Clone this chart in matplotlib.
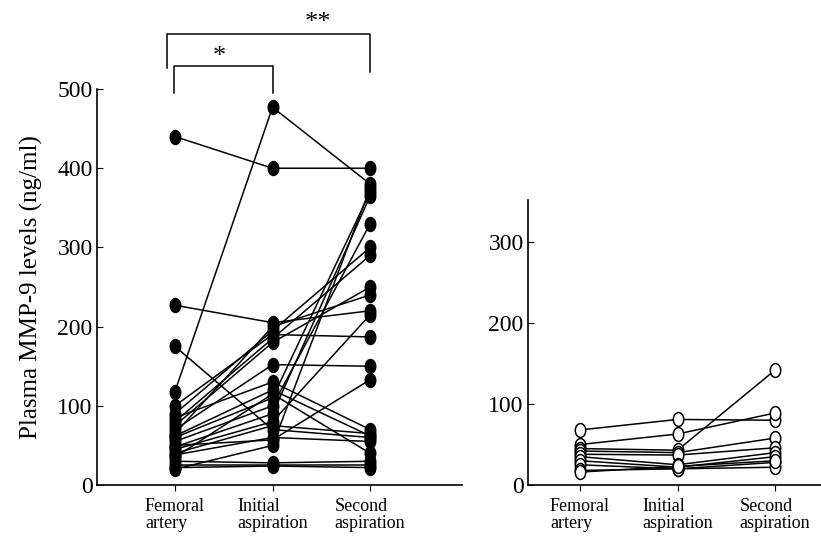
#!/usr/bin/env python3
# -*- coding: utf-8 -*-

"""
	Plasma MMP-9 levels, paired plot (two panels)
"""

import matplotlib
matplotlib.use("Agg")
import matplotlib.pyplot as plt
from matplotlib.path import Path

plt.rcParams['font.family'] = ['Liberation Serif', 'DejaVu Serif']

groups = ["Femoral\nartery", "Initial\naspiration", "Second\naspiration"]

# left panel (filled markers): femoral, initial, second
left_femoral = [440, 118, 227, 175, 100, 90, 85, 80, 75, 70, 65, 60,
                55, 50, 48, 45, 40, 38, 35, 30, 25, 22, 20, 62]
left_initial = [400, 477, 205, 70, 190, 195, 130, 185, 180, 152, 200, 110,
                100, 57, 90, 80, 75, 60, 115, 28, 25, 24, 50, 120]
left_second = [400, 380, 220, 60, 187, 300, 70, 290, 250, 150, 240, 370,
               330, 133, 365, 215, 65, 55, 40, 30, 25, 22, 375, 62]

# right panel (open markers)
right_femoral = [68, 50, 45, 42, 38, 35, 30, 25, 18, 16]
right_initial = [81, 63, 43, 40, 37, 25, 22, 20, 20, 23]
right_second = [80, 89, 142, 58, 46, 40, 35, 28, 22, 30]

# vertically stretched dot, like the scanned figure
circ = Path.unit_circle()
ellipse = Path(circ.vertices * [0.75, 1.0], circ.codes)


def style_axes(ax, ymax, yticks):
	ax.spines['top'].set_visible(False)
	ax.spines['right'].set_visible(False)
	ax.spines['left'].set_linewidth(1.2)
	ax.spines['bottom'].set_linewidth(1.2)
	ax.set_ylim(0, ymax)
	ax.set_yticks(yticks)
	ax.set_xticks([1, 2, 3])
	ax.set_xticklabels(groups, fontsize=13, multialignment='left', linespacing=1.05)
	ax.tick_params(axis='y', direction='in', length=4, labelsize=17, pad=3)
	ax.tick_params(axis='x', direction='out', length=4, pad=5)


def draw_pairs(ax, a, b, c, face):
	for v in zip(a, b, c):
		ax.plot([1, 2, 3], v, color='black', lw=1.1, marker=ellipse,
				markersize=10, markerfacecolor=face, markeredgecolor='black',
				markeredgewidth=1.1, clip_on=False, zorder=3)


fig = plt.figure(figsize=(8.21, 5.37), dpi=100)

ax1 = fig.add_axes([0.118, 0.0968, 0.4446, 0.7374])
draw_pairs(ax1, left_femoral, left_initial, left_second, 'black')
ax1.set_xlim(0.2, 3.94)
style_axes(ax1, 500, [0, 100, 200, 300, 400, 500])
ax1.set_ylabel("Plasma MMP-9 levels (ng/ml)", fontsize=18, labelpad=10)

# significance brackets
ax1.plot([0.92, 0.92, 3.0, 3.0], [526, 569, 569, 522], color='black', lw=1.1, clip_on=False)
ax1.plot([0.99, 0.99, 2.0, 2.0], [495, 529, 529, 495], color='black', lw=1.1, clip_on=False)
ax1.text(2.47, 570, "**", ha='center', va='bottom', fontsize=19)
ax1.text(1.45, 526, "*", ha='center', va='bottom', fontsize=19)

ax2 = fig.add_axes([0.643, 0.0968, 0.357, 0.5307])
draw_pairs(ax2, right_femoral, right_initial, right_second, 'white')
ax2.set_xlim(0.467, 3.47)
style_axes(ax2, 352, [0, 100, 200, 300])

plt.savefig("out.png", dpi=100)
